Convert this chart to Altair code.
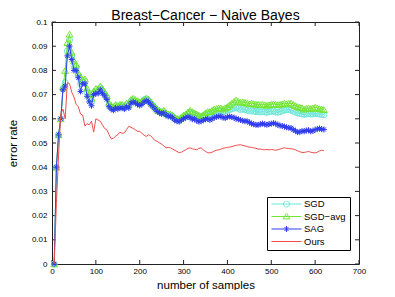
import altair as alt
import pandas as pd

# x: number of samples (one point every 5 samples)
N = list(range(5, 625, 5))

SGD = [0, 0.040, 0.0534, 0.060, 0.0725, 0.075, 0.088, 0.0925, 0.086, 0.082,
       0.081, 0.078, 0.0745, 0.075, 0.0755, 0.071, 0.0685, 0.067, 0.0705, 0.0715,
       0.0712, 0.0728, 0.0715, 0.0703, 0.0688, 0.0658, 0.0648, 0.0642, 0.0652, 0.0647,
       0.0652, 0.0652, 0.0647, 0.0657, 0.0652, 0.0672, 0.0677, 0.0672, 0.0667, 0.0662,
       0.0667, 0.0677, 0.0682, 0.0675, 0.0665, 0.0655, 0.0645, 0.0635, 0.063, 0.0625,
       0.063, 0.062, 0.0615, 0.0614, 0.061, 0.060, 0.0596, 0.0594, 0.0601, 0.0608,
       0.0613, 0.062, 0.0626, 0.062, 0.0616, 0.0611, 0.0606, 0.0604, 0.0609, 0.0616,
       0.062, 0.062, 0.0624, 0.0628, 0.063, 0.0633, 0.0633, 0.0628, 0.0632, 0.0636,
       0.0638, 0.0641, 0.0644, 0.0646, 0.0643, 0.0638, 0.064, 0.0638, 0.0635, 0.0632,
       0.0634, 0.0631, 0.063, 0.063, 0.0628, 0.063, 0.0628, 0.0627, 0.063, 0.063,
       0.0632, 0.0628, 0.0627, 0.063, 0.0633, 0.0636, 0.0637, 0.0638, 0.0636, 0.0632,
       0.0627, 0.0624, 0.0622, 0.062, 0.0618, 0.062, 0.0622, 0.062, 0.062, 0.0622,
       0.0621, 0.0619, 0.0618, 0.0617]

SGD_AVG = [0, 0.040, 0.0534, 0.060, 0.073, 0.080, 0.0915, 0.095, 0.0875, 0.084,
           0.0825, 0.079, 0.0775, 0.076, 0.0765, 0.0727, 0.070, 0.0685, 0.0715, 0.0725,
           0.072, 0.0735, 0.0725, 0.071, 0.0695, 0.0665, 0.0655, 0.065, 0.066, 0.0655,
           0.066, 0.066, 0.0655, 0.0665, 0.066, 0.068, 0.0685, 0.068, 0.0675, 0.067,
           0.0675, 0.068, 0.0685, 0.068, 0.067, 0.066, 0.065, 0.064, 0.0635, 0.063,
           0.0635, 0.0625, 0.062, 0.062, 0.0615, 0.0605, 0.0602, 0.060, 0.0608, 0.0615,
           0.062, 0.0628, 0.0635, 0.063, 0.0625, 0.062, 0.0615, 0.0612, 0.0617, 0.0625,
           0.063, 0.063, 0.0635, 0.064, 0.0642, 0.0645, 0.0645, 0.064, 0.0645, 0.065,
           0.0658, 0.0665, 0.0672, 0.0678, 0.0672, 0.0668, 0.067, 0.0668, 0.0665, 0.0662,
           0.0665, 0.0662, 0.066, 0.066, 0.0658, 0.066, 0.0658, 0.0656, 0.0658, 0.066,
           0.0662, 0.066, 0.0658, 0.066, 0.0662, 0.0665, 0.0662, 0.0664, 0.0665, 0.066,
           0.0655, 0.065, 0.0648, 0.0645, 0.064, 0.0643, 0.0645, 0.0642, 0.0645, 0.0648,
           0.0645, 0.0642, 0.064, 0.0638]

SAG = [0, 0.040, 0.0534, 0.060, 0.072, 0.0735, 0.086, 0.090, 0.0845, 0.080,
       0.080, 0.077, 0.0713, 0.0745, 0.0745, 0.0693, 0.067, 0.0654, 0.070, 0.0705,
       0.0705, 0.072, 0.0705, 0.0695, 0.068, 0.065, 0.064, 0.0635, 0.0645, 0.064,
       0.0645, 0.0645, 0.064, 0.065, 0.0645, 0.0665, 0.067, 0.0665, 0.066, 0.0655,
       0.066, 0.067, 0.0675, 0.067, 0.066, 0.065, 0.064, 0.063, 0.0625, 0.062,
       0.0625, 0.0615, 0.061, 0.061, 0.0605, 0.0595, 0.059, 0.0588, 0.0595, 0.060,
       0.0605, 0.0608, 0.0605, 0.0598, 0.060, 0.0592, 0.0588, 0.059, 0.0595, 0.0598,
       0.060, 0.0595, 0.060, 0.0605, 0.0608, 0.061, 0.061, 0.0605, 0.0603, 0.0608,
       0.061, 0.0607, 0.0605, 0.060, 0.0598, 0.0595, 0.0592, 0.059, 0.059, 0.0585,
       0.058, 0.0578, 0.0575, 0.0575, 0.0578, 0.058, 0.0578, 0.0575, 0.0578, 0.058,
       0.0582, 0.058, 0.0575, 0.0572, 0.057, 0.0568, 0.0565, 0.0563, 0.0562, 0.0555,
       0.055, 0.0545, 0.0545, 0.055, 0.0548, 0.0552, 0.0553, 0.0548, 0.055, 0.0555,
       0.0558, 0.056, 0.0557, 0.0556]

OURS = [0, 0.025, 0.045, 0.062, 0.064, 0.060, 0.075, 0.0745, 0.071, 0.069,
        0.066, 0.065, 0.062, 0.0615, 0.057, 0.058, 0.0575, 0.059, 0.0545, 0.060,
        0.0595, 0.059, 0.0575, 0.056, 0.0555, 0.0535, 0.0517, 0.052, 0.0528, 0.0534,
        0.0545, 0.054, 0.0542, 0.0555, 0.0569, 0.0565, 0.056, 0.0555, 0.0548, 0.0548,
        0.054, 0.0532, 0.0527, 0.0534, 0.053, 0.052, 0.051, 0.0507, 0.050, 0.0495,
        0.0488, 0.048, 0.0482, 0.048, 0.0475, 0.047, 0.0465, 0.046, 0.0462, 0.0468,
        0.0472, 0.0478, 0.048, 0.0476, 0.0474, 0.0472, 0.0478, 0.048, 0.0472, 0.0465,
        0.046, 0.0459, 0.0462, 0.0467, 0.047, 0.0472, 0.0474, 0.0478, 0.048, 0.0482,
        0.0483, 0.0485, 0.0488, 0.049, 0.0492, 0.0493, 0.049, 0.0488, 0.0485, 0.0483,
        0.0482, 0.048, 0.0478, 0.0475, 0.0475, 0.0473, 0.0472, 0.0473, 0.0472, 0.0473,
        0.0472, 0.047, 0.0472, 0.0475, 0.0478, 0.048, 0.0478, 0.0477, 0.0476, 0.0475,
        0.0472, 0.0468, 0.0464, 0.0461, 0.0461, 0.0463, 0.0465, 0.0462, 0.046, 0.0459,
        0.0462, 0.0467, 0.047, 0.0468]

SERIES = ["SGD", "SGD\u2212avg", "SAG", "Ours"]
VALUES = [SGD, SGD_AVG, SAG, OURS]
COLORS = ["#6fe6d8", "#72e632", "#2f3cf0", "#f24c4c"]

XTICKS = [0, 100, 200, 300, 400, 500, 600, 700]
YTICKS = [0, 0.01, 0.02, 0.03, 0.04, 0.05, 0.06, 0.07, 0.08, 0.09, 0.1]

STAR = "M-1,0H1M0,-1V1M-0.7,-0.7L0.7,0.7M-0.7,0.7L0.7,-0.7"
PLOT_SHAPES = ["circle", "triangle-up", STAR, None]
PLOT_SIZES = [36, 45, 36, 0]
LEG_PATHS = [
    "M-1,0H1M0.2,0A0.2,0.2,0,1,1,-0.2,0A0.2,0.2,0,1,1,0.2,0",
    "M-1,0H1M0,-0.23L0.22,0.16L-0.22,0.16Z",
    "M-1,0H1M0,-0.2V0.2M-0.14,-0.14L0.14,0.14M-0.14,0.14L0.14,-0.14",
    "M-1,0H1",
]

rows = []
for name, vals in zip(SERIES, VALUES):
    for n, v in zip(N, vals):
        rows.append({"n": n, "v": v, "series": name})
df = pd.DataFrame(rows)

AX = "#222222"
FONT = "Liberation Sans"

XS = alt.Scale(domain=[0, 700], nice=False, zero=False)
YS = alt.Scale(domain=[0, 0.1], nice=False, zero=False)

XAXIS = alt.Axis(values=XTICKS, format="d", title="number of samples", grid=False,
                 ticks=False, tickSize=0, domain=False, labelPadding=3, labelFontSize=8,
                 labelFont=FONT, labelColor="black", labelFlush=False, labelOverlap=False,
                 titleFont=FONT, titleFontSize=11.5, titleFontWeight="normal",
                 titleColor="black", titleX=153.5, titleY=24, titleBaseline="alphabetic")
YAXIS = alt.Axis(values=YTICKS, format=".2~f", title="error rate", grid=False,
                 ticks=False, tickSize=0, domain=False, labelPadding=5, labelFontSize=8,
                 labelFont=FONT, labelColor="black", labelFlush=False, labelOverlap=False,
                 titleFont=FONT, titleFontSize=11.5, titleFontWeight="normal",
                 titleColor="black", titleX=-35.5, titleY=121, titleBaseline="alphabetic")

xt = pd.DataFrame({"t": XTICKS})
yt = pd.DataFrame({"t": YTICKS})

tick_b = alt.Chart(xt).mark_tick(orient="vertical", size=4, thickness=1, color=AX, opacity=1).encode(
    x=alt.X("t:Q", scale=XS, axis=XAXIS), y=alt.Y(datum=0, scale=YS, axis=YAXIS), yOffset=alt.value(-2))
tick_t = alt.Chart(xt).mark_tick(orient="vertical", size=4, thickness=1, color=AX, opacity=1).encode(
    x=alt.X("t:Q", scale=XS, axis=XAXIS), y=alt.Y(datum=0.1, scale=YS, axis=YAXIS), yOffset=alt.value(2))
tick_l = alt.Chart(yt).mark_tick(orient="horizontal", size=4, thickness=1, color=AX, opacity=1).encode(
    y=alt.Y("t:Q", scale=YS, axis=YAXIS), x=alt.X(datum=0, scale=XS, axis=XAXIS), xOffset=alt.value(2))
tick_r = alt.Chart(yt).mark_tick(orient="horizontal", size=4, thickness=1, color=AX, opacity=1).encode(
    y=alt.Y("t:Q", scale=YS, axis=YAXIS), x=alt.X(datum=700, scale=XS, axis=XAXIS), xOffset=alt.value(-2))

layers = [tick_b, tick_t, tick_l, tick_r]
for name, color, shape, size in zip(SERIES, COLORS, PLOT_SHAPES, PLOT_SIZES):
    base = alt.Chart(df).transform_filter(alt.datum.series == name).encode(
        x=alt.X("n:Q", scale=XS, axis=XAXIS),
        y=alt.Y("v:Q", scale=YS, axis=YAXIS),
    )
    layers.append(base.mark_line(color=color, strokeWidth=1))
    if shape:
        layers.append(base.mark_point(shape=shape, color=color, size=size,
                                      strokeWidth=1, filled=False, opacity=1))

LEG = alt.Legend(title=None, orient="none", legendX=215, legendY=175, padding=4,
                 symbolSize=900, symbolStrokeWidth=1, labelFontSize=9.5, labelOffset=2,
                 clipHeight=6, rowPadding=2.5, strokeColor="black", fillColor="white",
                 labelFont=FONT, labelColor="black")

legend_layer = alt.Chart(df).transform_filter("datum.n < 0").mark_point(
    filled=False, size=900, strokeWidth=1, opacity=1).encode(
    x=alt.X("n:Q", scale=XS, axis=XAXIS),
    y=alt.Y("v:Q", scale=YS, axis=YAXIS),
    color=alt.Color("series:N", scale=alt.Scale(domain=SERIES, range=COLORS), legend=LEG),
    shape=alt.Shape("series:N", scale=alt.Scale(domain=SERIES, range=LEG_PATHS), legend=LEG),
)
layers.append(legend_layer)

chart = alt.layer(*layers).properties(
    width=307, height=242,
    title=alt.Title("Breast\u2212Cancer \u2212 Naive Bayes", fontSize=14, fontWeight="normal",
                    font=FONT, color="black", anchor="middle", offset=-5),
    autosize=alt.AutoSizeParams(type="none"),
    padding={"left": 44, "top": 14, "right": 20, "bottom": 26},
).configure(font=FONT, view=alt.ViewConfig(stroke=AX, strokeWidth=1),
            axis=alt.AxisConfig(labelOverlap=False, labelFlush=False, grid=False))

chart.save("out.html", embed_options={"renderer": "svg", "actions": False})
